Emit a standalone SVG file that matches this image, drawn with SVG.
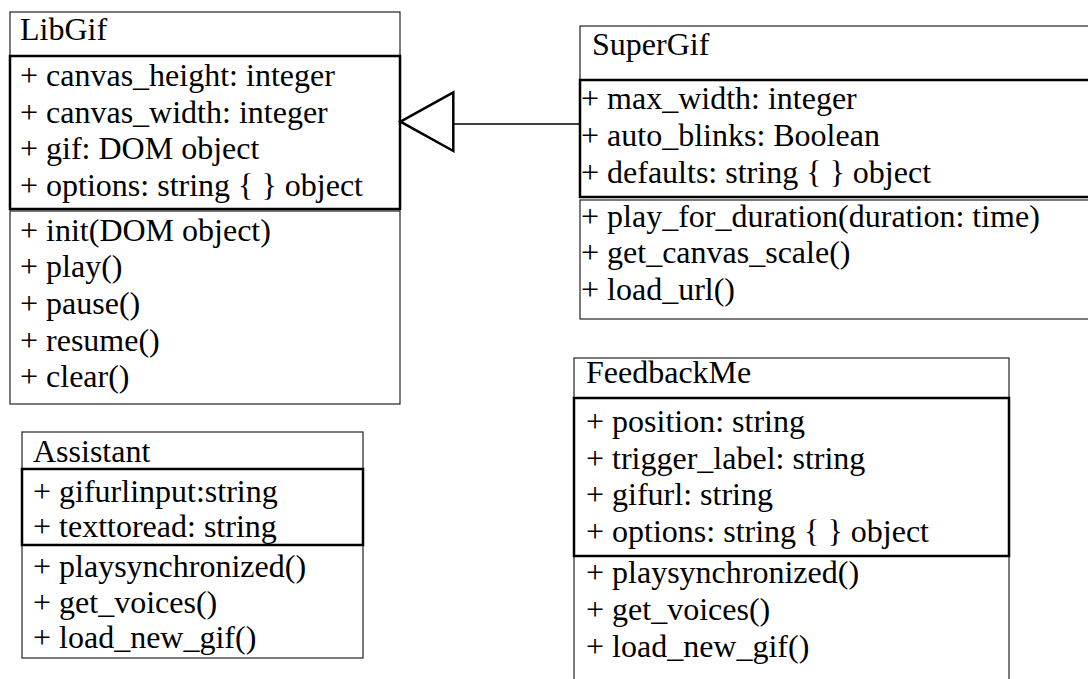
<svg xmlns="http://www.w3.org/2000/svg" width="1088" height="679" viewBox="0 0 1088 679">
<style>
  .thin { fill: none; stroke: #222; stroke-width: 1.2; }
  .thick { fill: none; stroke: #000; stroke-width: 2.5; }
  .t { font-family: 'Liberation Serif', serif; font-size: 32px; fill: #000; }
</style>
<rect x="0" y="0" width="1088" height="679" fill="#fff"/>
<g id="LibGif" class="t">
  <rect class="thin" x="10" y="12" width="390" height="44"/>
  <rect class="thin" x="10" y="211" width="390" height="193"/>
  <rect class="thick" x="10" y="56" width="390" height="153"/>
  <text x="20" y="40">LibGif</text>
  <text x="20" y="86">+ canvas_height: integer</text>
  <text x="20" y="122.7">+ canvas_width: integer</text>
  <text x="20" y="159.3">+ gif: DOM object</text>
  <text x="20" y="196">+ options: string { } object</text>
  <text x="20" y="240.7">+ init(DOM object)</text>
  <text x="20" y="277.3">+ play()</text>
  <text x="20" y="314">+ pause()</text>
  <text x="20" y="350.7">+ resume()</text>
  <text x="20" y="387">+ clear()</text>
</g>
<g id="SuperGif" class="t">
  <rect class="thin" x="580" y="26" width="520" height="54"/>
  <rect class="thin" x="580" y="200" width="520" height="119"/>
  <rect class="thick" x="580" y="80" width="520" height="117"/>
  <text x="592" y="55">SuperGif</text>
  <text x="581" y="109.3">+ max_width: integer</text>
  <text x="581" y="146">+ auto_blinks: Boolean</text>
  <text x="581" y="182.7">+ defaults: string { } object</text>
  <text x="581" y="226.7">+ play_for_duration(duration: time)</text>
  <text x="581" y="263.3">+ get_canvas_scale()</text>
  <text x="581" y="300">+ load_url()</text>
</g>
<g id="Assistant" class="t">
  <rect class="thin" x="22" y="432" width="341" height="37"/>
  <rect class="thin" x="22" y="545" width="341" height="113"/>
  <rect class="thick" x="22" y="469" width="341" height="76"/>
  <text x="33" y="461.7">Assistant</text>
  <text x="33" y="501.7">+ gifurlinput:string</text>
  <text x="33" y="536.7">+ texttoread: string</text>
  <text x="33" y="576.7">+ playsynchronized()</text>
  <text x="33" y="613.3">+ get_voices()</text>
  <text x="33" y="648.3">+ load_new_gif()</text>
</g>
<g id="FeedbackMe" class="t">
  <rect class="thin" x="574" y="358" width="435" height="40"/>
  <rect class="thin" x="574" y="556" width="435" height="140"/>
  <rect class="thick" x="574" y="398" width="435" height="158"/>
  <text x="586" y="383.3">FeedbackMe</text>
  <text x="586" y="431.7">+ position: string</text>
  <text x="586" y="468.7">+ trigger_label: string</text>
  <text x="586" y="505">+ gifurl: string</text>
  <text x="586" y="541.7">+ options: string { } object</text>
  <text x="586" y="583.3">+ playsynchronized()</text>
  <text x="586" y="620">+ get_voices()</text>
  <text x="586" y="657">+ load_new_gif()</text>
</g>
<g id="connectors">
  <line x1="453" y1="124" x2="580" y2="124" stroke="#000" stroke-width="1.5"/>
  <polygon points="400.5,121.7 453.3,92.3 453.3,151" fill="#fff" stroke="#000" stroke-width="2.5"/>
</g>
</svg>
